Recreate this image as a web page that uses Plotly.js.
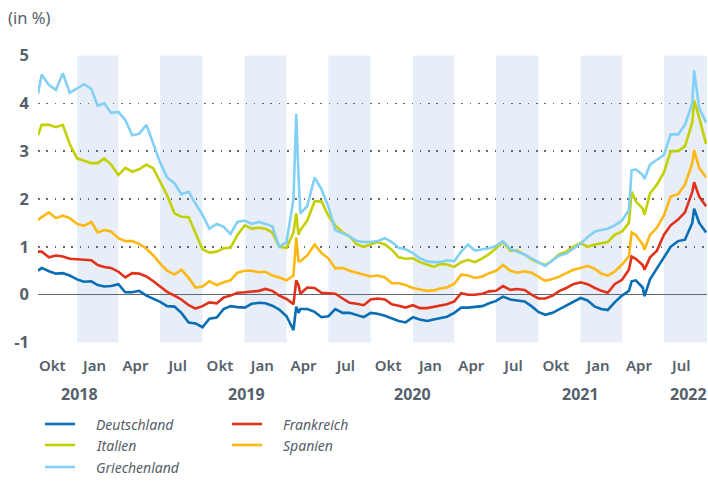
<!DOCTYPE html>
<html>
<head>
<meta charset="utf-8">
<script src="https://cdn.plot.ly/plotly-3.0.1.min.js"></script>
<style>
  html, body { margin: 0; padding: 0; background: #fff; }
  #chart { width: 708px; height: 482px; }
</style>
</head>
<body>
<div id="chart"></div>
<script>
// ---------- data (roughly semi-monthly) ----------
const dates = [
  '2018-10-08','2018-10-16','2018-11-01','2018-11-16','2018-12-01','2018-12-16',
  '2019-01-01','2019-01-16','2019-02-01','2019-02-15','2019-03-01','2019-03-16',
  '2019-04-01','2019-04-16','2019-05-01','2019-05-16','2019-06-01','2019-06-16',
  '2019-07-01','2019-07-16','2019-08-01','2019-08-16','2019-09-01','2019-09-16',
  '2019-10-01','2019-10-16','2019-11-01','2019-11-16','2019-12-01','2019-12-16',
  '2020-01-01','2020-01-16','2020-02-01','2020-02-15','2020-03-01','2020-03-16',
  '2020-04-01','2020-04-16','2020-04-22','2020-04-27','2020-05-01','2020-05-16',
  '2020-06-01','2020-06-16','2020-07-01','2020-07-16','2020-08-01','2020-08-16',
  '2020-09-01','2020-09-16','2020-10-01','2020-10-16','2020-11-01','2020-11-16',
  '2020-12-01','2020-12-16','2021-01-01','2021-01-16','2021-02-01','2021-02-15',
  '2021-03-01','2021-03-16','2021-04-01','2021-04-16','2021-05-01','2021-05-16',
  '2021-06-01','2021-06-16','2021-07-01','2021-07-16','2021-08-01','2021-08-16',
  '2021-09-01','2021-09-16','2021-10-01','2021-10-16','2021-11-01','2021-11-16',
  '2021-12-01','2021-12-16','2022-01-01','2022-01-16','2022-02-01','2022-02-15',
  '2022-03-01','2022-03-16','2022-04-01','2022-04-16','2022-04-22','2022-05-01',
  '2022-05-16','2022-05-20','2022-06-01','2022-06-16','2022-07-01','2022-07-16',
  '2022-08-01','2022-08-16','2022-09-01','2022-09-05','2022-09-16','2022-10-01'
];

const griechenland = [
  4.20,4.60,4.38,4.28,4.63,4.22, 4.31,4.40,4.30,3.95,4.00,3.80,
  3.82,3.65,3.33,3.36,3.55,3.15, 2.76,2.45,2.33,2.10,2.15,1.90,
  1.67,1.38,1.48,1.42,1.27,1.52, 1.55,1.48,1.52,1.48,1.43,1.00,
  1.10,2.00,3.78,2.47,1.70,1.85, 2.45,2.20,1.84,1.35,1.28,1.22,
  1.12,1.10,1.10,1.12,1.18,1.10, 0.98,0.95,0.87,0.76,0.70,0.68,
  0.68,0.72,0.70,0.90,1.05,0.92, 0.95,0.97,1.02,1.12,0.95,0.90,
  0.84,0.76,0.68,0.60,0.72,0.82, 0.86,0.97,1.07,1.20,1.32,1.35,
  1.38,1.45,1.55,1.77,2.60,2.62, 2.50,2.42,2.72,2.82,2.92,3.35,
  3.35,3.55,4.00,4.69,3.90,3.60
];
const italien = [
  3.33,3.55,3.55,3.50,3.55,3.15, 2.85,2.80,2.75,2.75,2.85,2.72,
  2.50,2.65,2.57,2.62,2.72,2.64, 2.35,2.08,1.70,1.63,1.62,1.30,
  0.95,0.88,0.90,0.97,0.98,1.25, 1.45,1.38,1.40,1.38,1.30,1.00,
  0.98,1.30,1.70,1.25,1.35,1.55, 1.95,1.95,1.65,1.45,1.30,1.22,
  1.05,1.00,1.05,1.10,1.05,0.94, 0.78,0.75,0.76,0.68,0.63,0.58,
  0.64,0.63,0.58,0.68,0.73,0.68, 0.76,0.85,0.97,1.10,0.92,0.92,
  0.84,0.74,0.67,0.62,0.72,0.85, 0.90,1.00,1.08,1.00,1.05,1.08,
  1.10,1.25,1.32,1.50,2.15,1.95, 1.80,1.67,2.12,2.30,2.55,3.00,
  3.00,3.10,3.60,4.06,3.70,3.15
];
const spanien = [
  1.56,1.62,1.72,1.60,1.65,1.60, 1.48,1.44,1.52,1.30,1.35,1.32,
  1.18,1.12,1.12,1.06,0.96,0.82, 0.65,0.50,0.42,0.52,0.35,0.15,
  0.17,0.28,0.20,0.26,0.30,0.46, 0.50,0.50,0.47,0.48,0.40,0.36,
  0.30,0.40,1.20,0.70,0.70,0.82, 1.05,0.87,0.76,0.55,0.56,0.50,
  0.46,0.42,0.38,0.40,0.36,0.24, 0.24,0.20,0.14,0.11,0.08,0.09,
  0.13,0.15,0.23,0.42,0.40,0.35, 0.38,0.45,0.50,0.62,0.50,0.46,
  0.49,0.46,0.38,0.29,0.33,0.38, 0.45,0.52,0.56,0.60,0.54,0.44,
  0.40,0.48,0.63,0.80,1.30,1.25, 1.05,0.94,1.25,1.40,1.65,2.05,
  2.10,2.30,2.75,3.02,2.65,2.45
];
const frankreich = [
  0.90,0.90,0.78,0.82,0.80,0.75, 0.74,0.73,0.72,0.62,0.58,0.56,
  0.48,0.36,0.45,0.44,0.38,0.28, 0.17,0.06,-0.02,-0.10,-0.22,-0.29,
  -0.24,-0.16,-0.18,-0.06,-0.02,0.04, 0.05,0.07,0.08,0.12,0.08,-0.02,
  -0.09,-0.20,0.30,0.20,0.02,0.15, 0.14,0.04,0.03,0.02,-0.08,-0.17,
  -0.19,-0.22,-0.10,-0.08,-0.10,-0.20, -0.23,-0.27,-0.22,-0.28,-0.28,-0.25,
  -0.22,-0.20,-0.14,0.03,0.00,0.00, 0.02,0.07,0.08,0.18,0.10,0.12,
  0.10,0.00,-0.08,-0.08,-0.02,0.08, 0.14,0.22,0.26,0.22,0.14,0.08,
  0.04,0.22,0.31,0.52,0.80,0.75, 0.62,0.52,0.78,0.92,1.25,1.45,
  1.57,1.72,2.15,2.35,2.05,1.85
];
const deutschland = [
  0.50,0.56,0.49,0.44,0.45,0.40, 0.32,0.27,0.28,0.20,0.17,0.18,
  0.22,0.05,0.05,0.08,-0.02,-0.08, -0.15,-0.24,-0.25,-0.38,-0.58,-0.60,
  -0.68,-0.50,-0.48,-0.30,-0.24,-0.26, -0.27,-0.19,-0.17,-0.18,-0.23,-0.31,
  -0.45,-0.74,-0.25,-0.38,-0.30,-0.30, -0.36,-0.47,-0.45,-0.30,-0.38,-0.38,
  -0.43,-0.47,-0.38,-0.40,-0.44,-0.50, -0.55,-0.58,-0.47,-0.52,-0.55,-0.52,
  -0.49,-0.46,-0.38,-0.27,-0.27,-0.25, -0.24,-0.18,-0.13,-0.04,-0.10,-0.12,
  -0.14,-0.24,-0.36,-0.42,-0.38,-0.30, -0.22,-0.14,-0.07,-0.12,-0.25,-0.30,
  -0.32,-0.16,-0.02,0.08,0.28,0.30, 0.15,-0.03,0.32,0.55,0.78,1.00,
  1.12,1.15,1.50,1.80,1.50,1.30
];

// month ticks (label sits mid-quarter) and year labels
const monthTicks = ['2018-11-08','2019-02-08','2019-05-08','2019-08-08','2019-11-08',
  '2020-02-08','2020-05-08','2020-08-08','2020-11-08','2021-02-08','2021-05-08',
  '2021-08-08','2021-11-08','2022-02-08','2022-05-08','2022-08-08'];
const monthLabels = ['Okt','Jan','Apr','Jul','Okt','Jan','Apr','Jul','Okt','Jan','Apr',
  'Jul','Okt','Jan','Apr','Jul'];
const yearPos = ['2019-01-07','2020-01-05','2021-01-01','2022-01-01','2022-08-24'];
const yearLabels = ['2018','2019','2020','2021','2022'];

// shaded quarters (start, end)
const bandStarts = ['2019-01-01','2019-07-01','2020-01-01','2020-07-01',
  '2021-01-01','2021-07-01','2022-01-01','2022-07-01'];
const bandEnds = ['2019-04-01','2019-10-01','2020-04-01','2020-10-01',
  '2021-04-01','2021-10-01','2022-04-01','2022-10-03'];

// ---------- styling ----------
const FONT = '"Noto Sans", "Open Sans", sans-serif';
const TXT = '#56606a';
const COLORS = {
  Deutschland: '#0a6eb4',
  Frankreich: '#e0321b',
  Italien: '#c3d000',
  Spanien: '#fdb813',
  Griechenland: '#82d0f5'
};

// plot box in pixels: left 38, right 707, top 55, bottom 343
const L = 38, R = 707, T = 55, B = 343;
const px = x => (x - L) / (R - L);
const py = y => (B - y) / (B - T);

function line(name, ys) {
  return {
    type: 'scatter', mode: 'lines', name: name,
    x: dates, y: ys,
    line: { color: COLORS[name], width: 2.6 },
    hoverinfo: 'skip'
  };
}

const data = [
  line('Deutschland', deutschland),
  line('Frankreich', frankreich),
  line('Spanien', spanien),
  line('Italien', italien),
  line('Griechenland', griechenland)
];

const shapes = bandStarts.map((s, i) => ({
  type: 'rect', xref: 'x', yref: 'y', layer: 'below',
  x0: s, x1: bandEnds[i], y0: -1, y1: 5,
  fillcolor: '#e7eef8', line: { width: 0 }
}));

const annotations = [{
  text: '(in %)', xref: 'paper', yref: 'paper', x: px(6), y: py(17),
  xanchor: 'left', yanchor: 'middle', showarrow: false,
  font: { family: FONT, size: 16.5, color: TXT }
}];
yearPos.forEach((d, i) => annotations.push({
  text: yearLabels[i], xref: 'x', yref: 'paper', x: d, y: py(394),
  xanchor: 'center', yanchor: 'middle', showarrow: false,
  font: { family: FONT, size: 16, color: TXT, weight: 700 }
}));

// hand-made legend: two columns
const legendItems = [
  { name: 'Deutschland', x: 45, y: 424 },
  { name: 'Italien', x: 45, y: 445 },
  { name: 'Griechenland', x: 45, y: 467 },
  { name: 'Frankreich', x: 232, y: 424 },
  { name: 'Spanien', x: 232, y: 445 }
];
legendItems.forEach(it => {
  shapes.push({
    type: 'line', xref: 'paper', yref: 'paper',
    x0: px(it.x), x1: px(it.x + 30), y0: py(it.y), y1: py(it.y),
    line: { color: COLORS[it.name], width: 2.6 }
  });
  annotations.push({
    text: it.name, xref: 'paper', yref: 'paper', x: px(it.x + 49), y: py(it.y),
    xanchor: 'left', yanchor: 'middle', showarrow: false,
    font: { family: FONT, size: 14, color: TXT, style: 'italic' }
  });
});

const layout = {
  width: 708, height: 482,
  margin: { l: L, r: 708 - R, t: T, b: 482 - B },
  paper_bgcolor: '#ffffff', plot_bgcolor: '#ffffff',
  showlegend: false,
  hovermode: false,
  xaxis: {
    type: 'date', range: ['2018-10-08', '2022-10-03'],
    showgrid: false, zeroline: false, showline: false,
    tickvals: monthTicks, ticktext: monthLabels, ticks: '',
    ticklabelstandoff: 12,
    tickfont: { family: FONT, size: 15, color: TXT, weight: 600 }
  },
  yaxis: {
    range: [-1.01, 5.01],
    tickvals: [-1, 0, 1, 2, 3, 4, 5], ticktext: ['-1', '0', '1', '2', '3', '4', '5'],
    ticks: '', ticklabelstandoff: 8,
    showgrid: true, gridcolor: '#5f6973', gridwidth: 1.6, griddash: '1.6px,6.7px',
    zeroline: true, zerolinecolor: '#5e6871', zerolinewidth: 1.3,
    showline: false,
    tickfont: { family: FONT, size: 16.5, color: TXT, weight: 700 }
  },
  shapes: shapes,
  annotations: annotations
};

Plotly.newPlot('chart', data, layout, { displayModeBar: false, staticPlot: true });
</script>
</body>
</html>
